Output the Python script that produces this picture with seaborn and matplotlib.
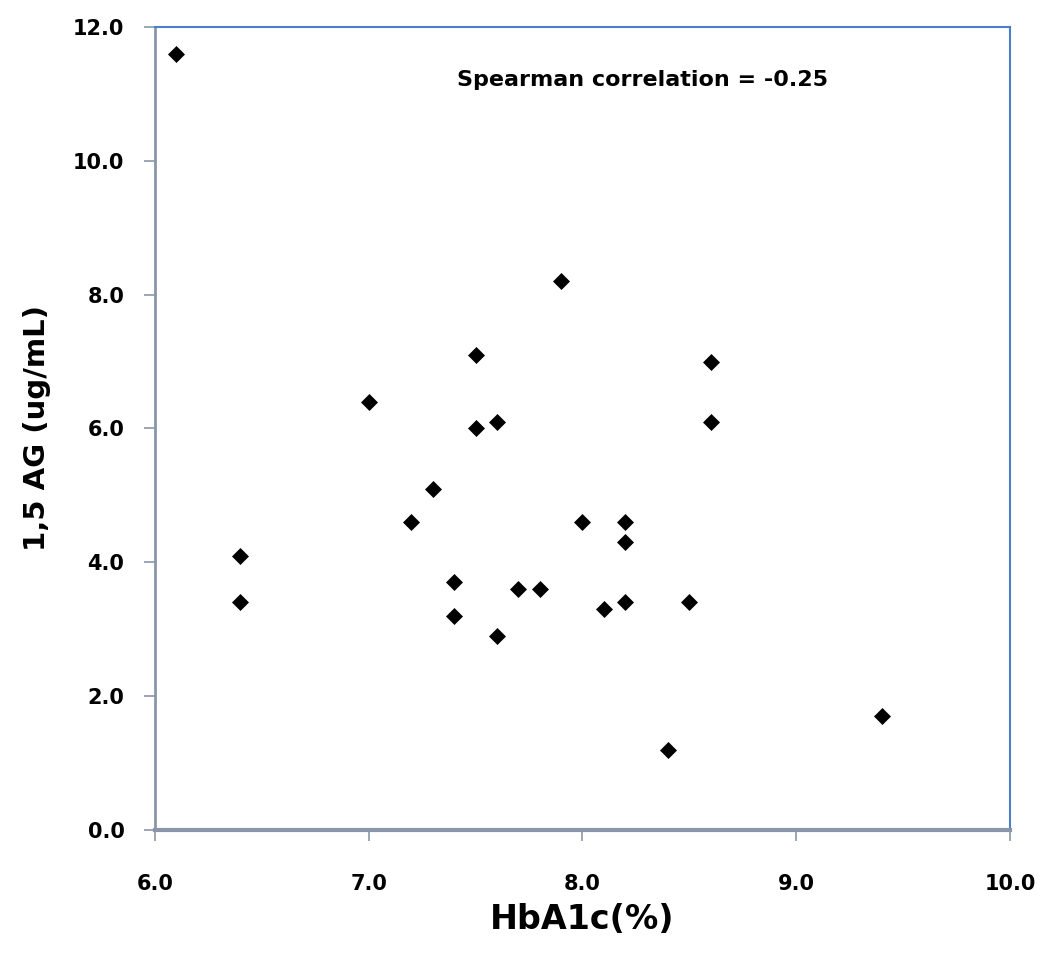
import matplotlib
matplotlib.use('Agg')
import matplotlib.pyplot as plt
import seaborn as sns
import pandas as pd

# Data
hba1c = [6.1, 6.4, 6.4, 7.0, 7.2, 7.3, 7.4, 7.4, 7.5, 7.5, 7.6, 7.6, 7.7,
         7.8, 7.9, 8.0, 8.1, 8.2, 8.2, 8.2, 8.4, 8.5, 8.6, 8.6, 9.4]
ag15 = [11.6, 4.1, 3.4, 6.4, 4.6, 5.1, 3.7, 3.2, 7.1, 6.0, 6.1, 2.9, 3.6,
        3.6, 8.2, 4.6, 3.3, 4.6, 4.3, 3.4, 1.2, 3.4, 7.0, 6.1, 1.7]
x_ticks = [6.0, 7.0, 8.0, 9.0, 10.0]
y_ticks = [0.0, 2.0, 4.0, 6.0, 8.0, 10.0, 12.0]

df = pd.DataFrame({'HbA1c': hba1c, 'AG': ag15})

sns.set_style('white')
plt.rcParams['font.family'] = ['DejaVu Sans']
plt.rcParams['text.color'] = 'black'
plt.rcParams['axes.labelcolor'] = 'black'
plt.rcParams['xtick.color'] = 'black'
plt.rcParams['ytick.color'] = 'black'

fig = plt.figure(figsize=(10.5, 9.57), dpi=100)
ax = fig.add_axes([0.1476, 0.1327, 0.8143, 0.8391])

sns.scatterplot(data=df, x='HbA1c', y='AG', marker='D', s=75, color='black',
                edgecolor='black', linewidth=0, ax=ax)

ax.set_xlim(6.0, 10.0)
ax.set_ylim(0.0, 12.0)
ax.set_xticks(x_ticks)
ax.set_yticks(y_ticks)
ax.set_xticklabels([f'{v:.1f}' for v in x_ticks], fontsize=15, fontweight='heavy')
ax.set_yticklabels([f'{v:.1f}' for v in y_ticks], fontsize=15, fontweight='heavy')
ax.tick_params(axis='both', direction='out', length=8, width=1.2, color='#8a96a8',
               labelcolor='black', bottom=True, left=True)
ax.tick_params(axis='x', pad=24)
ax.tick_params(axis='y', pad=14)

ax.set_xlabel('HbA1c(%)', fontsize=24, fontweight='bold', labelpad=6)
ax.set_ylabel('1,5 AG (ug/mL)', fontsize=21, fontweight='bold', labelpad=16)

for side in ['left', 'bottom']:
    ax.spines[side].set_color('#8a96a8')
ax.spines['left'].set_linewidth(2)
ax.spines['bottom'].set_linewidth(3)
for side in ['top', 'right']:
    ax.spines[side].set_color('#4a7ec8')
    ax.spines[side].set_linewidth(1.5)

ax.text(0.353, 0.934, 'Spearman correlation = -0.25', transform=ax.transAxes,
        fontsize=16, fontweight='bold', va='center', ha='left', color='black')

fig.savefig('out.png', dpi=100)
